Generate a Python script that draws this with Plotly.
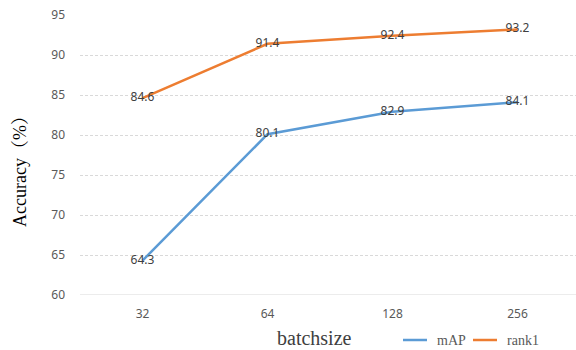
import plotly.graph_objects as go

categories = ["32", "64", "128", "256"]
map_values = [64.3, 80.1, 82.9, 84.1]
rank1_values = [84.6, 91.4, 92.4, 93.2]
y_ticks = [60, 65, 70, 75, 80, 85, 90, 95]
series_names = ["mAP", "rank1"]

BLUE = "#5B9BD5"
ORANGE = "#ED7D31"
SANS = "Noto Sans"
SERIF = "Liberation Serif, Noto Serif CJK SC, serif"

# plot area in pixels
L, R, T, B = 80, 576, 15, 295
PW, PH = R - L, B - T


def px(xp):
    return (xp - L) / PW


def py(yp):
    return (B - yp) / PH


fig = go.Figure()
for name, vals, col in [(series_names[0], map_values, BLUE),
                        (series_names[1], rank1_values, ORANGE)]:
    fig.add_trace(go.Scatter(
        x=categories, y=vals, name=name, mode="lines+text",
        line=dict(color=col, width=2.5),
        text=[f"{v:.1f}" for v in vals], textposition="middle center",
        textfont=dict(family=SANS, size=12, color="#404040"),
        showlegend=False,
    ))

fig.update_layout(
    width=576, height=350,
    margin=dict(l=L, r=576 - R, t=T, b=350 - B, autoexpand=False),
    plot_bgcolor="white", paper_bgcolor="white",
    showlegend=False,
    xaxis=dict(
        type="category", range=[-0.5, 3.468],
        showgrid=False, showline=False, zeroline=False,
        ticks="", tickfont=dict(family=SANS, size=12, color="#595959"),
        ticklabelstandoff=10,
    ),
    yaxis=dict(
        range=[60, 95], tickvals=y_ticks,
        showgrid=True, gridcolor="#D9D9D9", griddash="3px,2px", gridwidth=1,
        zeroline=False, showline=False, ticks="",
        tickfont=dict(family=SANS, size=12, color="#595959"),
        ticklabelstandoff=14,
    ),
)

# baseline axis line at 60
fig.add_shape(type="line", xref="paper", yref="y", x0=0, x1=1, y0=60, y1=60,
              line=dict(color="#D9D9D9", width=1.2), layer="below")

# axis titles
fig.add_annotation(text="batchsize", xref="paper", yref="paper",
                   x=px(314), y=py(338), showarrow=False,
                   xanchor="center", yanchor="middle",
                   font=dict(family=SERIF, size=20, color="#404040"))
fig.add_annotation(text="Accuracy（%）", xref="paper", yref="paper",
                   x=px(20), y=py(167), showarrow=False,
                   textangle=-90, xanchor="center", yanchor="middle",
                   font=dict(family=SERIF, size=18, color="#000000"))

# manual legend
legend_items = [(series_names[0], BLUE, 403, 427, 435),
                (series_names[1], ORANGE, 473, 497, 505)]
for name, col, x0, x1, xt in legend_items:
    fig.add_shape(type="line", xref="paper", yref="paper",
                  x0=px(x0), x1=px(x1), y0=py(340), y1=py(340),
                  line=dict(color=col, width=2.5))
    fig.add_annotation(text=name, xref="paper", yref="paper",
                       x=px(xt), y=py(340), showarrow=False,
                       xanchor="left", yanchor="middle",
                       font=dict(family=SERIF, size=14, color="#595959"))

fig.write_html(
    "out.html",
    config={"displayModeBar": False},
    post_script="document.body.style.margin='0';document.body.style.overflow='hidden';",
)
